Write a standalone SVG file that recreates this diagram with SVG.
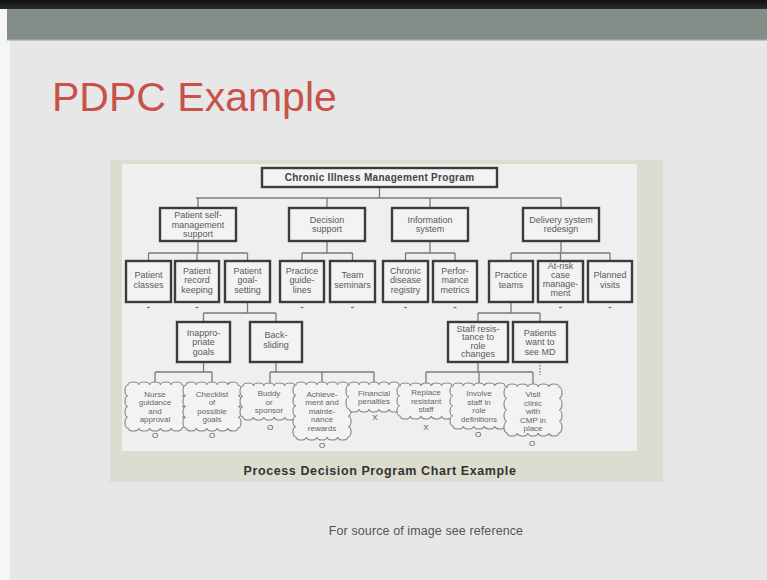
<svg xmlns="http://www.w3.org/2000/svg" width="767" height="580" viewBox="0 0 767 580">
<defs>
<linearGradient id="topg" x1="0" y1="0" x2="0" y2="1">
<stop offset="0" stop-color="#111"/><stop offset="1" stop-color="#2a2d2c"/>
</linearGradient>
</defs>
<style>
.box{fill:#f3f3f3;stroke:#3c3c3c;stroke-width:2.4}
.cloud{fill:#f3f3f3;stroke:#8a8a8a;stroke-width:1.2}
.con line{stroke:#7a7a7a;stroke-width:1.3;fill:none}
.t{font-family:"Liberation Sans",Arial,sans-serif;font-size:9px;fill:#5a5a5a;text-anchor:middle}
.ct{font-family:"Liberation Sans",Arial,sans-serif;font-size:8px;fill:#666;text-anchor:middle}
.mk{font-family:"Liberation Sans",Arial,sans-serif;font-size:8px;fill:#555;text-anchor:middle}
.tick{stroke:#a0a0a0;stroke-width:1}
</style>
<!-- slide background -->
<rect x="0" y="0" width="767" height="580" fill="#f6f6f6"/>
<rect x="10" y="8" width="757" height="572" fill="#e7e7e7"/>
<rect x="0" y="0" width="767" height="9" fill="url(#topg)"/>
<rect x="7" y="9" width="760" height="31" fill="#838e89"/>
<rect x="7" y="39" width="760" height="1.5" fill="#98a29d"/>
<text x="52" y="111" font-family="Liberation Sans,Arial,sans-serif" font-size="41" fill="#c8524a">PDPC Example</text>
<!-- embedded chart frame -->
<rect x="110" y="160" width="553" height="322" fill="#dcddd0"/>
<rect x="122" y="164" width="515" height="287" fill="#efefef"/>
<text x="380" y="475" font-family="Liberation Sans,Arial,sans-serif" font-size="12.5" font-weight="bold" letter-spacing="0.6" fill="#333" text-anchor="middle">Process Decision Program Chart Example</text>
<text x="426" y="535" font-family="Liberation Sans,Arial,sans-serif" font-size="12.5" letter-spacing="0.1" fill="#555" text-anchor="middle">For source of image see reference</text>

<g id="connectors" class="con">
<line x1="379.5" y1="187" x2="379.5" y2="198"/>
<line x1="196" y1="198" x2="561" y2="198"/>
<line x1="198" y1="198" x2="198" y2="208"/>
<line x1="327" y1="198" x2="327" y2="208"/>
<line x1="430" y1="198" x2="430" y2="208"/>
<line x1="561" y1="198" x2="561" y2="208"/>
<line x1="198" y1="241" x2="198" y2="253"/>
<line x1="148.5" y1="253" x2="247.5" y2="253"/>
<line x1="148.5" y1="253" x2="148.5" y2="261"/>
<line x1="197" y1="253" x2="197" y2="261"/>
<line x1="247.5" y1="253" x2="247.5" y2="261"/>
<line x1="327" y1="241" x2="327" y2="253"/>
<line x1="302" y1="253" x2="352.5" y2="253"/>
<line x1="302" y1="253" x2="302" y2="261"/>
<line x1="352.5" y1="253" x2="352.5" y2="261"/>
<line x1="430" y1="241" x2="430" y2="253"/>
<line x1="405.5" y1="253" x2="455" y2="253"/>
<line x1="405.5" y1="253" x2="405.5" y2="261"/>
<line x1="455" y1="253" x2="455" y2="261"/>
<line x1="561" y1="241" x2="561" y2="253"/>
<line x1="511" y1="253" x2="610" y2="253"/>
<line x1="511" y1="253" x2="511" y2="261"/>
<line x1="560.5" y1="253" x2="560.5" y2="261"/>
<line x1="610" y1="253" x2="610" y2="261"/>
<line x1="247.5" y1="302" x2="247.5" y2="313"/>
<line x1="203.5" y1="313" x2="276" y2="313"/>
<line x1="203.5" y1="313" x2="203.5" y2="322"/>
<line x1="276" y1="313" x2="276" y2="322"/>
<line x1="511" y1="302" x2="511" y2="313"/>
<line x1="478" y1="313" x2="540" y2="313"/>
<line x1="478" y1="313" x2="478" y2="322"/>
<line x1="540" y1="313" x2="540" y2="322"/>
<line x1="203.5" y1="362" x2="203.5" y2="372"/>
<line x1="155" y1="372" x2="212" y2="372"/>
<line x1="155" y1="372" x2="155" y2="384"/>
<line x1="212" y1="372" x2="212" y2="384"/>
<line x1="276" y1="362" x2="276" y2="372"/>
<line x1="270" y1="372" x2="374" y2="372"/>
<line x1="270" y1="372" x2="270" y2="385"/>
<line x1="322" y1="372" x2="322" y2="384"/>
<line x1="374" y1="372" x2="374" y2="384"/>
<line x1="478" y1="362" x2="478" y2="372"/>
<line x1="426" y1="372" x2="533" y2="372"/>
<line x1="426" y1="372" x2="426" y2="385"/>
<line x1="479" y1="372" x2="479" y2="385"/>
<line x1="533" y1="372" x2="533" y2="386"/>
<line x1="540" y1="362" x2="540" y2="375" stroke-dasharray="1.5,1.5"/>
<line class="tick" x1="147" y1="307.5" x2="150" y2="307.5"/>
<line class="tick" x1="195.5" y1="307.5" x2="198.5" y2="307.5"/>
<line class="tick" x1="300.5" y1="307.5" x2="303.5" y2="307.5"/>
<line class="tick" x1="351" y1="307.5" x2="354" y2="307.5"/>
<line class="tick" x1="404" y1="307.5" x2="407" y2="307.5"/>
<line class="tick" x1="453.5" y1="307.5" x2="456.5" y2="307.5"/>
<line class="tick" x1="559" y1="307.5" x2="562" y2="307.5"/>
<line class="tick" x1="608.5" y1="307.5" x2="611.5" y2="307.5"/>
</g>

<g id="root">
<rect class="box" x="262" y="168" width="235" height="19"/>
<text x="379.5" y="181.2" font-family="Liberation Sans,Arial,sans-serif" font-size="10" font-weight="bold" letter-spacing="0.3" fill="#444" text-anchor="middle">Chronic Illness Management Program</text>
</g>

<g id="psm"><rect class="box" x="160" y="208" width="76" height="33"/>
<text class="t" x="198" y="218.3">Patient self-</text><text class="t" x="198" y="227.8">management</text><text class="t" x="198" y="237.2">support</text></g>
<g id="decision"><rect class="box" x="289" y="208" width="76" height="33"/>
<text class="t" x="327" y="222.5">Decision</text><text class="t" x="327" y="232">support</text></g>
<g id="info"><rect class="box" x="392" y="208" width="76" height="33"/>
<text class="t" x="430" y="222.5">Information</text><text class="t" x="430" y="232">system</text></g>
<g id="delivery"><rect class="box" x="523" y="208" width="76" height="33"/>
<text class="t" x="561" y="222.5">Delivery system</text><text class="t" x="561" y="232">redesign</text></g>

<g id="classes"><rect class="box" x="126" y="261" width="45" height="41"/>
<text class="t" x="148.5" y="278.2">Patient</text><text class="t" x="148.5" y="287.7">classes</text></g>
<g id="record"><rect class="box" x="175" y="261" width="44" height="41"/>
<text class="t" x="197" y="273.5">Patient</text><text class="t" x="197" y="283">record</text><text class="t" x="197" y="292.5">keeping</text></g>
<g id="goal"><rect class="box" x="225" y="261" width="45" height="41"/>
<text class="t" x="247.5" y="273.5">Patient</text><text class="t" x="247.5" y="283">goal-</text><text class="t" x="247.5" y="292.5">setting</text></g>
<g id="guidelines"><rect class="box" x="280" y="261" width="44" height="41"/>
<text class="t" x="302" y="273.5">Practice</text><text class="t" x="302" y="283">guide-</text><text class="t" x="302" y="292.5">lines</text></g>
<g id="seminars"><rect class="box" x="330" y="261" width="45" height="41"/>
<text class="t" x="352.5" y="278.2">Team</text><text class="t" x="352.5" y="287.7">seminars</text></g>
<g id="registry"><rect class="box" x="383" y="261" width="45" height="41"/>
<text class="t" x="405.5" y="273.5">Chronic</text><text class="t" x="405.5" y="283">disease</text><text class="t" x="405.5" y="292.5">registry</text></g>
<g id="metrics"><rect class="box" x="433" y="261" width="44" height="41"/>
<text class="t" x="455" y="273.5">Perfor-</text><text class="t" x="455" y="283">mance</text><text class="t" x="455" y="292.5">metrics</text></g>
<g id="teams"><rect class="box" x="489" y="261" width="44" height="41"/>
<text class="t" x="511" y="278.2">Practice</text><text class="t" x="511" y="287.7">teams</text></g>
<g id="atrisk"><rect class="box" x="538" y="261" width="45" height="41"/>
<text class="t" x="560.5" y="269">At-risk</text><text class="t" x="560.5" y="278">case</text><text class="t" x="560.5" y="287">manage-</text><text class="t" x="560.5" y="296">ment</text></g>
<g id="visits"><rect class="box" x="588" y="261" width="44" height="41"/>
<text class="t" x="610" y="278.2">Planned</text><text class="t" x="610" y="287.7">visits</text></g>

<g id="inappropriate"><rect class="box" x="177" y="322" width="53" height="40"/>
<text class="t" x="203.5" y="335.5">Inappro-</text><text class="t" x="203.5" y="345">priate</text><text class="t" x="203.5" y="354.5">goals</text></g>
<g id="backsliding"><rect class="box" x="250" y="322" width="52" height="40"/>
<text class="t" x="276" y="338">Back-</text><text class="t" x="276" y="347.5">sliding</text></g>
<g id="resistance"><rect class="box" x="448" y="322" width="60" height="40"/>
<text class="t" x="478" y="331.5">Staff resis-</text><text class="t" x="478" y="340">tance to</text><text class="t" x="478" y="348.5">role</text><text class="t" x="478" y="357">changes</text></g>
<g id="seemd"><rect class="box" x="513" y="322" width="54" height="40"/>
<text class="t" x="540" y="335.5">Patients</text><text class="t" x="540" y="345">want to</text><text class="t" x="540" y="354.5">see MD</text></g>

<g id="c-nurse">
<path class="cloud" d="M128,385 a5.4,3 0 0 1 10.8,0 a5.4,3 0 0 1 10.8,0 a5.4,3 0 0 1 10.8,0 a5.4,3 0 0 1 10.8,0 a5.4,3 0 0 1 10.8,0 a3,5.375 0 0 1 0,10.75 a3,5.375 0 0 1 0,10.75 a3,5.375 0 0 1 0,10.75 a3,5.375 0 0 1 0,10.75 a5.4,3 0 0 1 -10.8,0 a5.4,3 0 0 1 -10.8,0 a5.4,3 0 0 1 -10.8,0 a5.4,3 0 0 1 -10.8,0 a5.4,3 0 0 1 -10.8,0 a3,5.375 0 0 1 0,-10.75 a3,5.375 0 0 1 0,-10.75 a3,5.375 0 0 1 0,-10.75 a3,5.375 0 0 1 0,-10.75 Z"/>
<text class="ct" x="155" y="396.5">Nurse</text><text class="ct" x="155" y="405">guidance</text><text class="ct" x="155" y="413.5">and</text><text class="ct" x="155" y="422">approval</text>
<text class="mk" x="155" y="438">O</text></g>
<g id="c-checklist">
<path class="cloud" d="M186,385 a5.2,3 0 0 1 10.4,0 a5.2,3 0 0 1 10.4,0 a5.2,3 0 0 1 10.4,0 a5.2,3 0 0 1 10.4,0 a5.2,3 0 0 1 10.4,0 a3,5.375 0 0 1 0,10.75 a3,5.375 0 0 1 0,10.75 a3,5.375 0 0 1 0,10.75 a3,5.375 0 0 1 0,10.75 a5.2,3 0 0 1 -10.4,0 a5.2,3 0 0 1 -10.4,0 a5.2,3 0 0 1 -10.4,0 a5.2,3 0 0 1 -10.4,0 a5.2,3 0 0 1 -10.4,0 a3,5.375 0 0 1 0,-10.75 a3,5.375 0 0 1 0,-10.75 a3,5.375 0 0 1 0,-10.75 a3,5.375 0 0 1 0,-10.75 Z"/>
<text class="ct" x="212" y="396.5">Checklist</text><text class="ct" x="212" y="405">of</text><text class="ct" x="212" y="413.5">possible</text><text class="ct" x="212" y="422">goals</text>
<text class="mk" x="212" y="438">O</text></g>
<g id="c-buddy">
<path class="cloud" d="M243,386 a5.2,3 0 0 1 10.4,0 a5.2,3 0 0 1 10.4,0 a5.2,3 0 0 1 10.4,0 a5.2,3 0 0 1 10.4,0 a5.2,3 0 0 1 10.4,0 a3,5.167 0 0 1 0,10.333 a3,5.167 0 0 1 0,10.333 a3,5.167 0 0 1 0,10.334 a5.2,3 0 0 1 -10.4,0 a5.2,3 0 0 1 -10.4,0 a5.2,3 0 0 1 -10.4,0 a5.2,3 0 0 1 -10.4,0 a5.2,3 0 0 1 -10.4,0 a3,5.167 0 0 1 0,-10.333 a3,5.167 0 0 1 0,-10.333 a3,5.167 0 0 1 0,-10.334 Z"/>
<text class="ct" x="269" y="396">Buddy</text><text class="ct" x="269" y="404.5">or</text><text class="ct" x="269" y="413">sponsor</text>
<text class="mk" x="270" y="430">O</text></g>
<g id="c-achieve">
<path class="cloud" d="M296,385 a5.2,3 0 0 1 10.4,0 a5.2,3 0 0 1 10.4,0 a5.2,3 0 0 1 10.4,0 a5.2,3 0 0 1 10.4,0 a5.2,3 0 0 1 10.4,0 a3,5.2 0 0 1 0,10.4 a3,5.2 0 0 1 0,10.4 a3,5.2 0 0 1 0,10.4 a3,5.2 0 0 1 0,10.4 a3,5.2 0 0 1 0,10.4 a5.2,3 0 0 1 -10.4,0 a5.2,3 0 0 1 -10.4,0 a5.2,3 0 0 1 -10.4,0 a5.2,3 0 0 1 -10.4,0 a5.2,3 0 0 1 -10.4,0 a3,5.2 0 0 1 0,-10.4 a3,5.2 0 0 1 0,-10.4 a3,5.2 0 0 1 0,-10.4 a3,5.2 0 0 1 0,-10.4 a3,5.2 0 0 1 0,-10.4 Z"/>
<text class="ct" x="322" y="396.8">Achieve-</text><text class="ct" x="322" y="405.3">ment and</text><text class="ct" x="322" y="413.8">mainte-</text><text class="ct" x="322" y="422.3">nance</text><text class="ct" x="322" y="430.8">rewards</text>
<text class="mk" x="322" y="448">O</text></g>
<g id="c-financial">
<path class="cloud" d="M349,385 a5,3 0 0 1 10,0 a5,3 0 0 1 10,0 a5,3 0 0 1 10,0 a5,3 0 0 1 10,0 a5,3 0 0 1 10,0 a3,6 0 0 1 0,12 a3,6 0 0 1 0,12 a5,3 0 0 1 -10,0 a5,3 0 0 1 -10,0 a5,3 0 0 1 -10,0 a5,3 0 0 1 -10,0 a5,3 0 0 1 -10,0 a3,6 0 0 1 0,-12 a3,6 0 0 1 0,-12 Z"/>
<text class="ct" x="374" y="395.5">Financial</text><text class="ct" x="374" y="404">penalties</text>
<text class="mk" x="375" y="420">X</text></g>
<g id="c-replace">
<path class="cloud" d="M400,386 a5.2,3 0 0 1 10.4,0 a5.2,3 0 0 1 10.4,0 a5.2,3 0 0 1 10.4,0 a5.2,3 0 0 1 10.4,0 a5.2,3 0 0 1 10.4,0 a3,5 0 0 1 0,10 a3,5 0 0 1 0,10 a3,5 0 0 1 0,10 a5.2,3 0 0 1 -10.4,0 a5.2,3 0 0 1 -10.4,0 a5.2,3 0 0 1 -10.4,0 a5.2,3 0 0 1 -10.4,0 a5.2,3 0 0 1 -10.4,0 a3,5 0 0 1 0,-10 a3,5 0 0 1 0,-10 a3,5 0 0 1 0,-10 Z"/>
<text class="ct" x="426" y="395.3">Replace</text><text class="ct" x="426" y="403.8">resistant</text><text class="ct" x="426" y="412.3">staff</text>
<text class="mk" x="426" y="430">X</text></g>
<g id="c-involve">
<path class="cloud" d="M453,386 a5.2,3 0 0 1 10.4,0 a5.2,3 0 0 1 10.4,0 a5.2,3 0 0 1 10.4,0 a5.2,3 0 0 1 10.4,0 a5.2,3 0 0 1 10.4,0 a3,5 0 0 1 0,10 a3,5 0 0 1 0,10 a3,5 0 0 1 0,10 a3,5 0 0 1 0,10 a5.2,3 0 0 1 -10.4,0 a5.2,3 0 0 1 -10.4,0 a5.2,3 0 0 1 -10.4,0 a5.2,3 0 0 1 -10.4,0 a5.2,3 0 0 1 -10.4,0 a3,5 0 0 1 0,-10 a3,5 0 0 1 0,-10 a3,5 0 0 1 0,-10 a3,5 0 0 1 0,-10 Z"/>
<text class="ct" x="479" y="396">Involve</text><text class="ct" x="479" y="404.5">staff in</text><text class="ct" x="479" y="413">role</text><text class="ct" x="479" y="421.5">definitions</text>
<text class="mk" x="478" y="437">O</text></g>
<g id="c-visit">
<path class="cloud" d="M507,387 a5.2,3 0 0 1 10.4,0 a5.2,3 0 0 1 10.4,0 a5.2,3 0 0 1 10.4,0 a5.2,3 0 0 1 10.4,0 a5.2,3 0 0 1 10.4,0 a3,5.75 0 0 1 0,11.5 a3,5.75 0 0 1 0,11.5 a3,5.75 0 0 1 0,11.5 a3,5.75 0 0 1 0,11.5 a5.2,3 0 0 1 -10.4,0 a5.2,3 0 0 1 -10.4,0 a5.2,3 0 0 1 -10.4,0 a5.2,3 0 0 1 -10.4,0 a5.2,3 0 0 1 -10.4,0 a3,5.75 0 0 1 0,-11.5 a3,5.75 0 0 1 0,-11.5 a3,5.75 0 0 1 0,-11.5 a3,5.75 0 0 1 0,-11.5 Z"/>
<text class="ct" x="533" y="397">Visit</text><text class="ct" x="533" y="405.5">clinic</text><text class="ct" x="533" y="414">with</text><text class="ct" x="533" y="422.5">CMP in</text><text class="ct" x="533" y="431">place</text>
<text class="mk" x="532" y="446">O</text></g>
</svg>
